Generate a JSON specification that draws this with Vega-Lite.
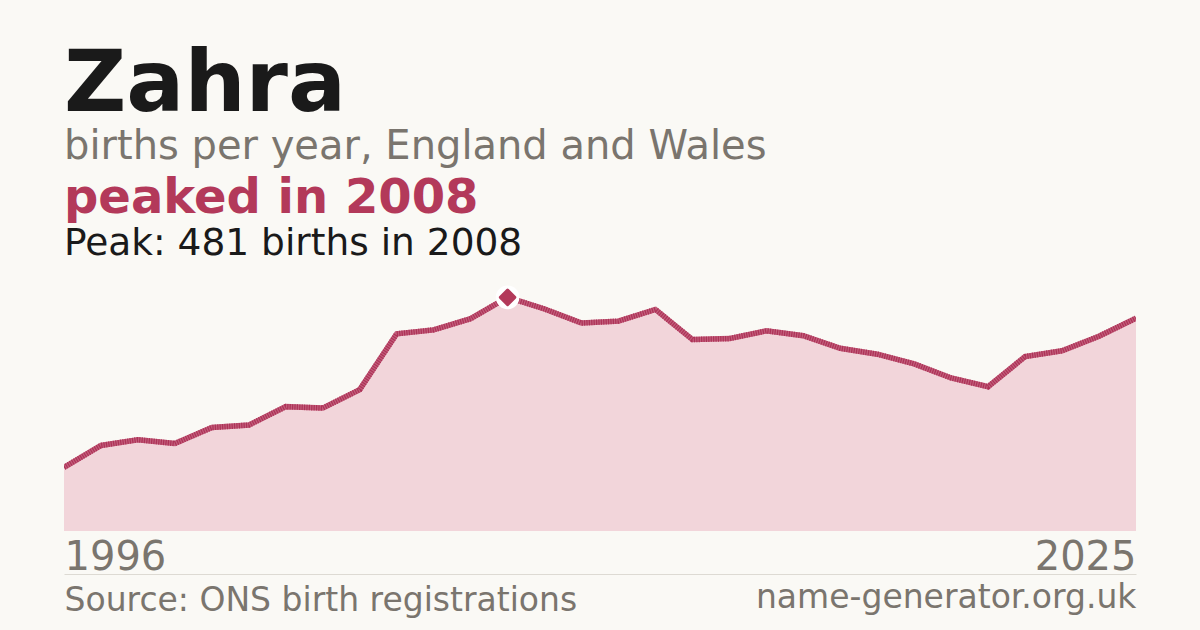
{
  "$schema": "https://vega.github.io/schema/vega-lite/v6.json",
  "background": "#faf9f5",
  "padding": {"left": 64, "right": 64, "top": 41, "bottom": 20},
  "config": {"font": "DejaVu Sans", "view": {"stroke": null}},
  "title": {
    "text": "Zahra",
    "subtitle": "births per year, England and Wales",
    "anchor": "start",
    "fontSize": 86,
    "fontWeight": "bold",
    "color": "#1a1a1a",
    "subtitleFontSize": 40,
    "subtitleColor": "#7a756e",
    "subtitlePadding": -2,
    "offset": 7
  },
  "data": {
    "values": [
      {"year": 1996, "births": 131},
      {"year": 1997, "births": 176},
      {"year": 1998, "births": 188},
      {"year": 1999, "births": 180},
      {"year": 2000, "births": 213},
      {"year": 2001, "births": 218},
      {"year": 2002, "births": 256},
      {"year": 2003, "births": 253},
      {"year": 2004, "births": 291},
      {"year": 2005, "births": 406},
      {"year": 2006, "births": 414},
      {"year": 2007, "births": 437},
      {"year": 2008, "births": 481},
      {"year": 2009, "births": 457},
      {"year": 2010, "births": 428},
      {"year": 2011, "births": 432},
      {"year": 2012, "births": 456},
      {"year": 2013, "births": 394},
      {"year": 2014, "births": 396},
      {"year": 2015, "births": 412},
      {"year": 2016, "births": 402},
      {"year": 2017, "births": 376},
      {"year": 2018, "births": 364},
      {"year": 2019, "births": 344},
      {"year": 2020, "births": 315},
      {"year": 2021, "births": 297},
      {"year": 2022, "births": 359},
      {"year": 2023, "births": 371},
      {"year": 2024, "births": 401},
      {"year": 2025, "births": 438}
    ]
  },
  "vconcat": [
    {
      "width": 1072,
      "height": 257,
      "title": {
        "text": "peaked in 2008",
        "subtitle": "Peak: 481 births in 2008",
        "anchor": "start",
        "fontSize": 48,
        "fontWeight": "bold",
        "color": "#b3395a",
        "subtitleFontSize": 37.5,
        "subtitleColor": "#1a1a1a",
        "subtitlePadding": 2,
        "offset": 12
      },
      "layer": [
        {
          "mark": {"type": "area", "color": "#f2d5da"},
          "encoding": {
            "x": {
              "field": "year",
              "type": "quantitative",
              "scale": {"domain": [1996, 2025], "nice": false, "zero": false},
              "axis": {
                "orient": "bottom",
                "values": [1996, 2025],
                "format": "d",
                "labelFlush": true,
                "labelOverlap": false,
                "labelFontSize": 40,
                "labelColor": "#7a756e",
                "labelBaseline": "alphabetic",
                "labelPadding": -5,
                "ticks": false,
                "tickSize": 0,
                "grid": false,
                "domain": true,
                "domainColor": "#dddad3",
                "domainWidth": 1,
                "offset": 43,
                "title": "Source: ONS birth registrations",
                "titleAnchor": "start",
                "titleFontSize": 33,
                "titleFontWeight": "normal",
                "titleColor": "#7a756e",
                "titlePadding": 7
              }
            },
            "y": {
              "field": "births",
              "type": "quantitative",
              "scale": {"domain": [0, 529], "nice": false},
              "axis": null
            }
          }
        },
        {
          "mark": {"type": "line", "color": "#c25e7b", "strokeWidth": 5.5, "clip": true},
          "encoding": {
            "x": {"field": "year", "type": "quantitative", "scale": {"domain": [1996, 2025], "nice": false, "zero": false}, "axis": null},
            "y": {"field": "births", "type": "quantitative", "scale": {"domain": [0, 529], "nice": false}, "axis": null}
          }
        },
        {
          "mark": {"type": "line", "color": "#ad3257", "strokeWidth": 5.5, "strokeDash": [1.2, 1.2], "clip": true},
          "encoding": {
            "x": {"field": "year", "type": "quantitative", "scale": {"domain": [1996, 2025], "nice": false, "zero": false}, "axis": null},
            "y": {"field": "births", "type": "quantitative", "scale": {"domain": [0, 529], "nice": false}, "axis": null}
          }
        },
        {
          "transform": [{"filter": "datum.year == 2008"}],
          "mark": {"type": "point", "shape": "circle", "filled": true, "color": "#ffffff", "opacity": 1, "size": 560},
          "encoding": {
            "x": {"field": "year", "type": "quantitative", "scale": {"domain": [1996, 2025], "nice": false, "zero": false}, "axis": null},
            "y": {"field": "births", "type": "quantitative", "scale": {"domain": [0, 529], "nice": false}, "axis": null}
          }
        },
        {
          "transform": [{"filter": "datum.year == 2008"}],
          "mark": {"type": "point", "shape": "diamond", "filled": true, "color": "#b3395a", "opacity": 1, "size": 210, "stroke": "#b3395a", "strokeWidth": 3, "strokeJoin": "round"},
          "encoding": {
            "x": {"field": "year", "type": "quantitative", "scale": {"domain": [1996, 2025], "nice": false, "zero": false}, "axis": null},
            "y": {"field": "births", "type": "quantitative", "scale": {"domain": [0, 529], "nice": false}, "axis": null}
          }
        },
        {
          "mark": {"type": "area", "opacity": 0},
          "encoding": {
            "x": {
              "field": "year",
              "type": "quantitative",
              "scale": {"domain": [1996, 2025], "nice": false, "zero": false},
              "axis": {
                "orient": "bottom",
                "labels": false,
                "ticks": false,
                "domain": false,
                "grid": false,
                "offset": 43,
                "title": "name-generator.org.uk",
                "titleAnchor": "end",
                "titleFontSize": 33,
                "titleFontWeight": "normal",
                "titleColor": "#7a756e",
                "titlePadding": 7
              }
            },
            "y": {"field": "births", "type": "quantitative", "scale": {"domain": [0, 529], "nice": false}, "axis": null}
          }
        }
      ],
      "resolve": {"scale": {"x": "independent"}}
    }
  ]
}
